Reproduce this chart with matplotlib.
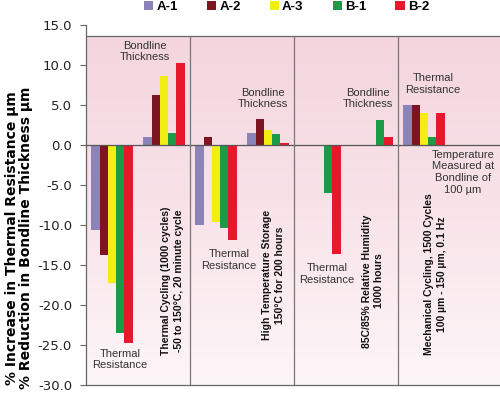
import numpy as np
import matplotlib
matplotlib.use('agg')
import matplotlib.pyplot as plt
from matplotlib.colors import LinearSegmentedColormap

# data: 8 group slots (2 per test panel), nan = no bar
series = ['A-1', 'A-2', 'A-3', 'B-1', 'B-2']
colors = ['#8a84b8', '#7b1520', '#f2ee14', '#1c9a48', '#e8182c']
nan = np.nan
a1 = [-10.6, 1.0, -10.0, 1.5, nan, nan, 5.0, nan]
a2 = [-13.7, 6.2, 1.0, 3.2, nan, nan, 5.0, nan]
a3 = [-17.3, 8.6, -9.6, 1.9, nan, nan, 4.0, nan]
b1 = [-23.5, 1.5, -10.4, 1.4, -6.0, 3.1, 1.0, nan]
b2 = [-24.8, 10.2, -11.9, 0.2, -13.6, 1.0, 4.0, nan]
values = [a1, a2, a3, b1, b2]

tests = ['Thermal Cycling (1000 cycles)\n-50 to 150°C, 20 minute cycle',
         'High Temperature Storage\n150°C for 200 hours',
         '85C/85% Relative Humidity\n1000 hours',
         'Mechanical Cycling, 1500 Cycles\n100 µm - 150 µm, 0.1 Hz']

sans = 'Liberation Sans'
fig = plt.figure(figsize=(5.0, 3.93), dpi=100)
ax = fig.add_axes([86/500, 8/393, 416/500, 360/393])
ax.set_xlim(0, 8)
ax.set_ylim(-30, 15)

# pink gradient panel background
top = 13.6
cmap = LinearSegmentedColormap.from_list('pinkfade', ['#fdf6f8', '#f8e3e9', '#f4d5de'])
grad = np.linspace(0, 1, 256).reshape(-1, 1)
ax.imshow(grad, extent=[0, 8, -30, top], origin='lower', cmap=cmap,
          aspect='auto', zorder=0)

x = np.arange(8) + 0.5
w = 0.16
bars = []
for i, (name, vals, c) in enumerate(zip(series, values, colors)):
    b = ax.bar(x + (i - 2) * w, vals, width=w, color=c, label=name,
               linewidth=0, zorder=2)
    bars.append(b)

ax.axhline(0, color='#555555', lw=0.9, zorder=3)
ax.plot([0, 8], [top, top], color='#666666', lw=0.9, zorder=3)
for xv in [2, 4, 6]:
    ax.plot([xv, xv], [-30, top], color='#777777', lw=0.9, zorder=3)

for s in ['top', 'right']:
    ax.spines[s].set_visible(False)
for s in ['left', 'bottom']:
    ax.spines[s].set_color('#666666')
    ax.spines[s].set_linewidth(0.9)

ax.set_xticks([])
ax.set_yticks(np.arange(-30, 16, 5))
ax.set_yticklabels([f'{v:.1f}' for v in np.arange(-30, 16, 5)],
                   fontsize=9.5, color='#222222')
ax.tick_params(axis='y', length=4, width=0.8, color='#666666', pad=6)

ax.set_ylabel('% Increase in Thermal Resistance µm\n% Reduction in Bondline Thickness µm',
              fontsize=10, fontweight='bold', linespacing=1.0)
ax.yaxis.set_label_coords(-0.127, 0.408)

ann = dict(fontsize=8, color='#333333', family=sans, ha='center', va='center',
           linespacing=1.2, zorder=4)
ax.text(1.135, 11.7, 'Bondline\nThickness', **ann)
ax.text(0.65, -26.8, 'Thermal\nResistance', **ann)
ax.text(3.40, 5.8, 'Bondline\nThickness', **ann)
ax.text(2.75, -14.4, 'Thermal\nResistance', **ann)
ax.text(5.42, 5.8, 'Bondline\nThickness', **ann)
ax.text(4.63, -16.1, 'Thermal\nResistance', **ann)
ax.text(6.67, 7.6, 'Thermal\nResistance', **ann)
ax.text(7.25, -3.4, 'Temperature\nMeasured at\nBondline of\n100 µm', **ann)

rot = dict(fontsize=7.5, fontweight='bold', family=sans, rotation=90,
           ha='center', va='center', linespacing=1.35, zorder=4, color='#111111')
ax.text(1.66, -17.0, tests[0], **rot)
ax.text(3.61, -16.3, tests[1], **rot)
ax.text(5.52, -17.0, tests[2], **rot)
ax.text(6.72, -16.2, tests[3], **rot)

fig.legend(handles=bars, labels=series, loc='center', bbox_to_anchor=(0.573, 0.983),
           ncol=5, frameon=False, prop={'family': sans, 'weight': 'bold', 'size': 9.5},
           handlelength=0.7, handleheight=0.7, handletextpad=0.25,
           columnspacing=2.2, borderaxespad=0, borderpad=0)

fig.savefig('out.png', dpi=100)
